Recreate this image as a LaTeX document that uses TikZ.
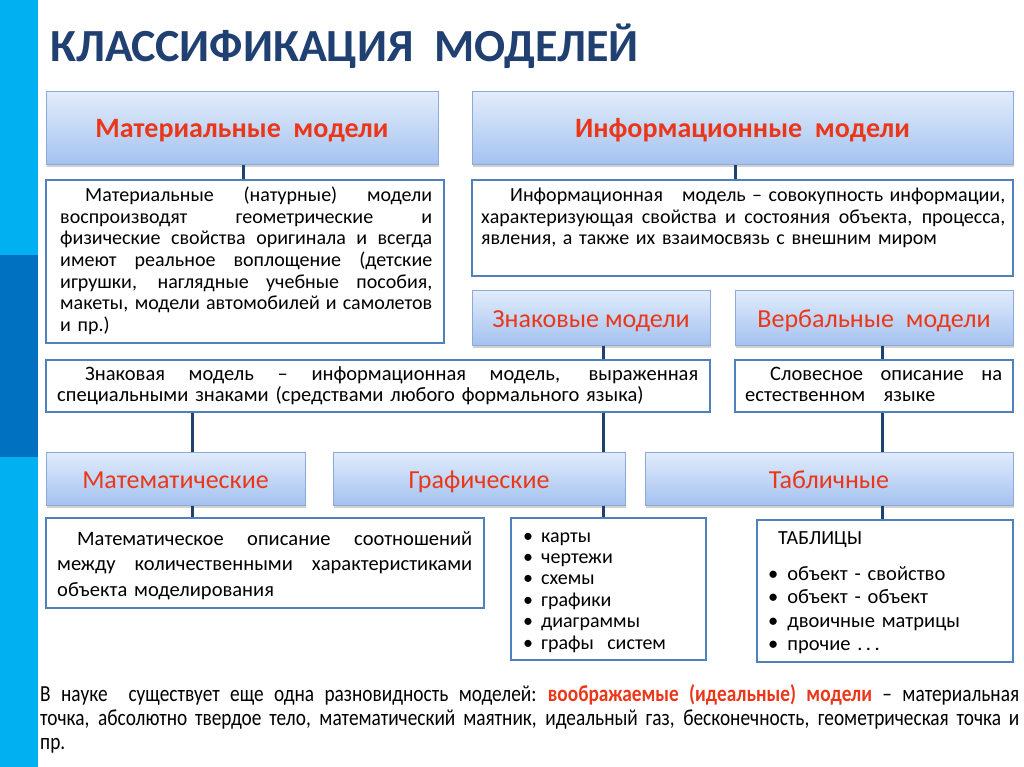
\documentclass[tikz,border=0pt]{standalone}
\usepackage{fontspec}
\setmainfont{Carlito}
\newfontfamily\narrowfont[FakeStretch=0.84]{Carlito}
\usetikzlibrary{shadows}
\definecolor{titleblue}{RGB}{31,64,112}
\definecolor{redtxt}{RGB}{235,55,25}
\definecolor{hdtop}{RGB}{226,236,251}
\definecolor{hdbot}{RGB}{164,194,240}
\definecolor{hdborder}{RGB}{140,170,215}
\definecolor{boxborder}{RGB}{79,129,189}
\definecolor{connc}{RGB}{31,65,110}
\definecolor{barlight}{RGB}{0,176,240}
\definecolor{bardark}{RGB}{0,112,192}
\newcommand\jl[2]{\makebox[#1pt][s]{\spaceskip=0.2em plus 1fil\relax#2}}
\begin{document}
\begin{tikzpicture}[x=1pt,y=-1pt,
 hdr/.style={draw=hdborder, line width=1pt, top color=hdtop, bottom color=hdbot,
   drop shadow={shadow xshift=1pt, shadow yshift=-2.5pt, opacity=0.3, fill=black!60},
   inner sep=0pt, text height=21pt, text depth=2pt, text=redtxt, font=\fontsize{26}{30}\selectfont},
 bighdr/.style={hdr, font=\fontsize{28}{32}\selectfont\bfseries},
 desc/.style={draw=boxborder, line width=2.5pt, fill=white, inner sep=0pt},
 txt/.style={anchor=base west, inner sep=0pt, text width=#1pt,
   font=\fontsize{20.5}{21.5}\selectfont, text=black},
 conn/.style={draw=connc, line width=3pt}]
\useasboundingbox (0,0) rectangle (1024,767);
\fill[white] (0,0) rectangle (1024,767);
\fill[barlight] (0,0) rectangle (38,767);
\fill[bardark] (0,255) rectangle (38,457);

\node[anchor=base west, inner sep=0pt, text=titleblue, font=\fontsize{46}{50}\selectfont\bfseries] (title) at (50,62) {КЛАССИФИКАЦИЯ~~МОДЕЛЕЙ};

\coordinate (cA) at (192,0);
\coordinate (cB) at (603,0);
\coordinate (cC) at (882,0);
\coordinate (cD) at (735,0);
\coordinate (cE) at (243,0);

\node[bighdr, minimum width=392pt, minimum height=73pt] (mh) at (242,128.5) {Материальные~~модели};
\node[bighdr, minimum width=541pt, minimum height=73pt] (ih) at (742.5,128.5) {Информационные~~модели};
\node[desc, minimum width=398pt, minimum height=163pt] (md) at (245,261.5) {};
\node[desc, minimum width=541pt, minimum height=96pt] (id) at (742.5,228) {};
\node[hdr, minimum width=238pt, minimum height=55pt] (zh) at (591,317.5) {Знаковые модели};
\node[hdr, minimum width=278pt, minimum height=55pt] (vh) at (874,317.5) {Вербальные~~модели};
\node[desc, minimum width=664pt, minimum height=52pt] (zd) at (378,386) {};
\node[desc, minimum width=278pt, minimum height=52pt] (vd) at (874,386) {};
\node[hdr, minimum width=259pt, minimum height=53pt] (mathh) at (175.5,478.5) {Математические};
\node[hdr, minimum width=292pt, minimum height=53pt] (grh) at (479,478.5) {Графические};
\node[hdr, minimum width=368pt, minimum height=53pt] (tabh) at (829,478.5) {Табличные};
\node[desc, minimum width=438pt, minimum height=90pt] (mathd) at (265,563) {};
\node[desc, minimum width=195pt, minimum height=142pt] (grd) at (608.5,589) {};
\node[desc, minimum width=256pt, minimum height=142pt] (tabd) at (885,591) {};

\draw[conn] (mh.south -| cE) -- (md.north -| cE);
\draw[conn] (ih.south -| cD) -- (id.north -| cD);
\draw[conn] (zh.south -| cB) -- (zd.north -| cB);
\draw[conn] (vh.south -| cC) -- (vd.north -| cC);
\draw[conn] (zd.south -| cA) -- (mathh.north -| cA);
\draw[conn] (zd.south -| cB) -- (grh.north -| cB);
\draw[conn] (vd.south -| cC) -- (tabh.north -| cC);
\draw[conn] (mathh.south -| cA) -- (mathd.north -| cA);
\draw[conn] (grh.south -| cB) -- (grd.north -| cB);
\draw[conn] (tabh.south -| cC) -- (tabd.north -| cC);

\node[txt=372, font=\fontsize{20}{21.5}\selectfont] (mdt) at (60,202) {\hspace*{25pt}\jl{347}{Материальные (натурные) модели}\\
\jl{372}{воспроизводят геометрические и}\\
\jl{372}{физические свойства оригинала и всегда}\\
\jl{372}{имеют реальное воплощение (детские}\\
\jl{372}{игрушки, наглядные учебные пособия,}\\
\jl{372}{макеты, модели автомобилей и самолетов}\\
и пр.)};

\node[txt=524, font=\fontsize{20}{21.5}\selectfont] (idt) at (481,202) {\hspace*{29pt}\jl{495}{Информационная~~ модель – совокупность информации,}\\
\jl{524}{характеризующая свойства и состояния объекта, процесса,}\\
явления, а также их взаимосвязь с внешним миром};

\node[txt=641] (zdt) at (57,380) {\hspace*{28pt}\jl{613}{Знаковая модель – информационная модель, выраженная}\\
специальными знаками (средствами любого формального языка)};

\node[txt=257] (vdt) at (745,380) {\hspace*{25pt}\jl{232}{Словесное описание на}\\
естественном\hspace{0.9em}языке};

\node[txt=415, font=\fontsize{20.5}{25.5}\selectfont] (mathdt) at (57,545) {\hspace*{20pt}\jl{395}{Математическое описание соотношений}\\
\jl{415}{между количественными характеристиками}\\
объекта моделирования};

\node[txt=180, font=\fontsize{20}{21.4}\selectfont] (grdt) at (523,542) {\textbullet\hspace{8pt}карты\\
\textbullet\hspace{8pt}чертежи\\
\textbullet\hspace{8pt}схемы\\
\textbullet\hspace{8pt}графики\\
\textbullet\hspace{8pt}диаграммы\\
\textbullet\hspace{8pt}графы~ систем};

\node[txt=240, font=\fontsize{20.5}{23.5}\selectfont] (tabdt) at (768,544) {\hspace*{10pt}{\fontsize{20}{23.5}\selectfont ТАБЛИЦЫ}\\[12.5pt]
\textbullet\hspace{9pt}объект - свойство\\
\textbullet\hspace{9pt}объект - объект\\
\textbullet\hspace{9pt}двоичные матрицы\\
\textbullet\hspace{9pt}прочие .\,.\,.};

\node[anchor=base west, inner sep=0pt, text width=979pt, font=\narrowfont\fontsize{23}{24.3}\selectfont] (note) at (40,701) {\jl{979}{В науке~ существует еще одна разновидность моделей: \textcolor{redtxt}{\bfseries воображаемые (идеальные) модели} – материальная}\\
\jl{979}{точка, абсолютно твердое тело, математический маятник, идеальный газ, бесконечность, геометрическая точка и}\\
пр.};
\end{tikzpicture}
\end{document}
